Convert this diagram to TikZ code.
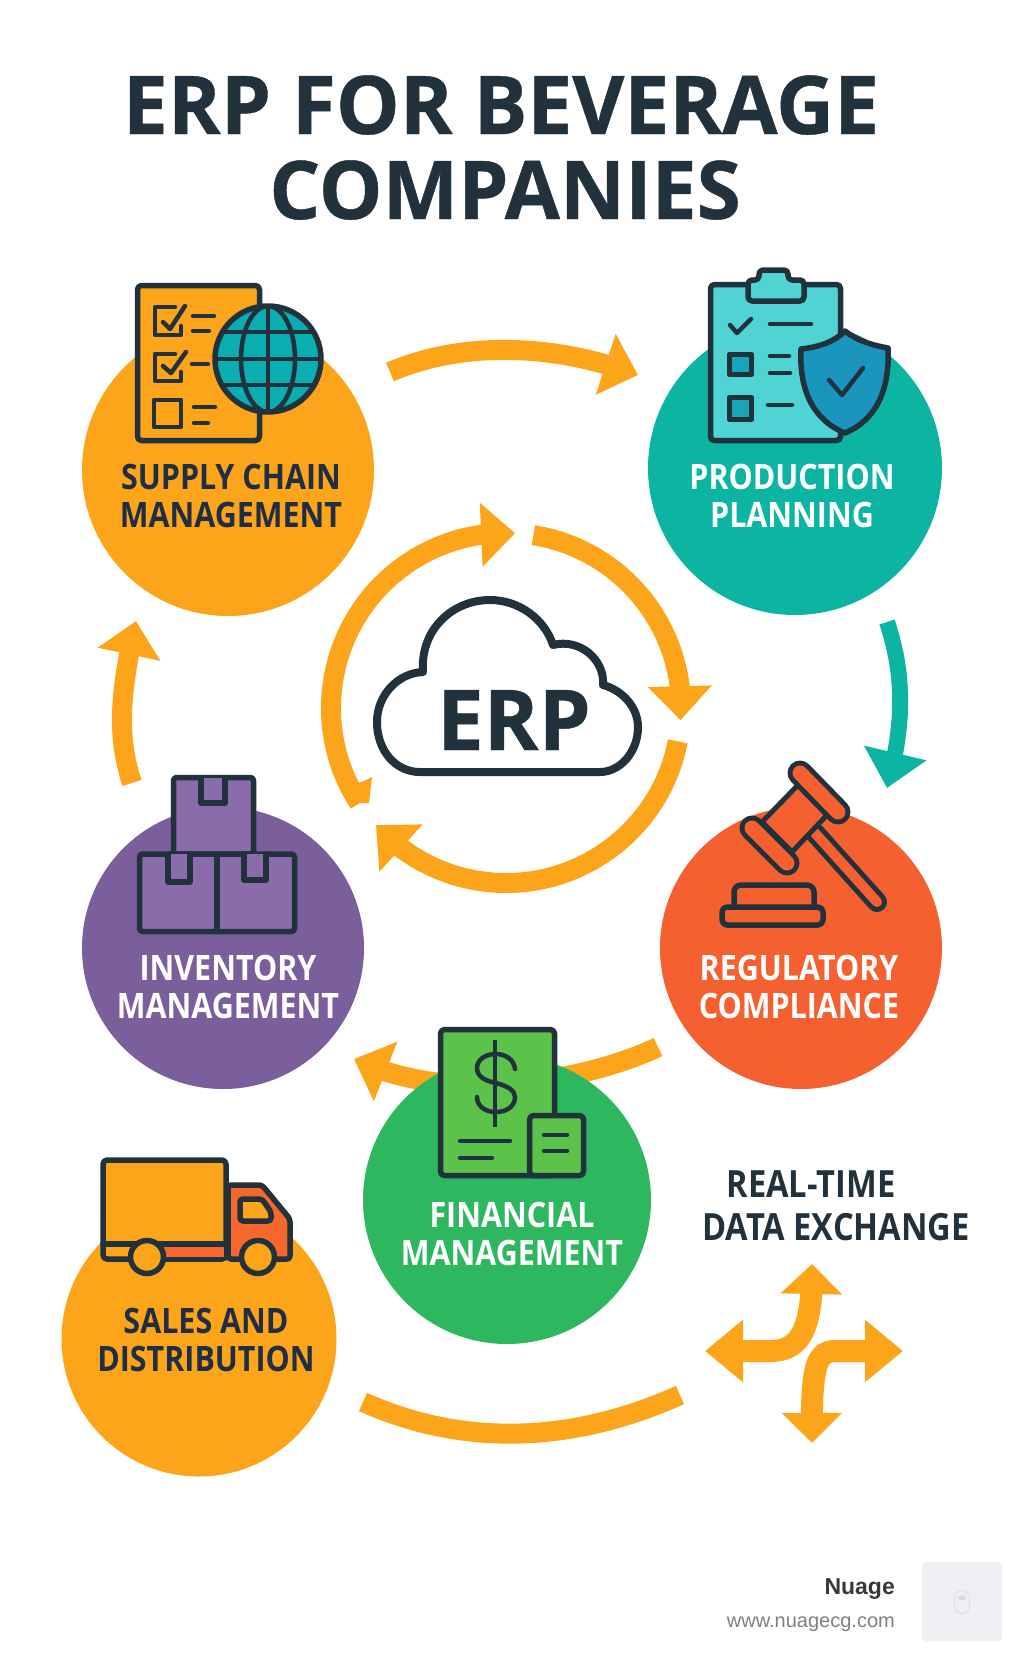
\documentclass[tikz,border=0pt]{standalone}
\usepackage{fontspec}
\usetikzlibrary{arrows.meta,bending}
\newfontfamily\titlefont[FakeStretch=0.99, BoldFeatures={FakeBold=0.5}]{Open Sans}
\newfontfamily\hubfont[FakeStretch=0.87]{Open Sans}
\newfontfamily\footfont{Liberation Sans}
\definecolor{ink}{HTML}{22323C}
\definecolor{navy}{HTML}{1F2D45}
\definecolor{amber}{HTML}{FDA51A}
\definecolor{teal}{HTML}{0CB5A2}
\definecolor{mint}{HTML}{4FD3D3}
\definecolor{sea}{HTML}{17A5B7}
\definecolor{shieldblue}{HTML}{1A96BE}
\definecolor{globeteal}{HTML}{0BAEB0}
\definecolor{flame}{HTML}{F4602F}
\definecolor{plum}{HTML}{7A5F9C}
\definecolor{lilac}{HTML}{8A6CAB}
\definecolor{leaf}{HTML}{2DB75F}
\definecolor{lime}{HTML}{5BC24A}
\definecolor{tile}{HTML}{EFEFF4}
\tikzset{
    hub/.style={circle, inner sep=0pt, minimum size=#1},
    hubtext/.style={font=\hubfont\bfseries\fontsize{35}{37.5}\selectfont, align=center, anchor=base, inner sep=0pt},
    icon/.style={draw=ink, line width=5.5pt, line join=round, line cap=round},
    thin icon/.style={draw=ink, line width=4.5pt, line join=round, line cap=round},
    bar/.style={draw=ink, line width=4.5pt, line cap=round},
    flow/.style={draw=amber, line width=#1, -{Triangle[length=34pt,width=62pt]}},
    flow/.default=20pt,
    gavel/.style={draw=ink, line width=5pt, double=flame, line cap=round, double distance=#1}
}
\begin{document}
\begin{tikzpicture}[x=1pt, y=-1pt]

    \useasboundingbox (0,0) rectangle (1024,1666);
    \path[fill=white] (0,0) rectangle (1024,1666);

    % title
    \node[font=\titlefont\bfseries\fontsize{81}{81}\selectfont, text=ink, anchor=base, inner sep=0pt] (title1) at (501,134) {ERP FOR BEVERAGE};
    \node[font=\titlefont\bfseries\fontsize{81}{81}\selectfont, text=ink, anchor=base, inner sep=0pt] (title2) at (505,219) {COMPANIES};

    % free ends of the connectors
    \coordinate (supplyout) at (390,372);
    \coordinate (prodin) at (638,375);
    \coordinate (prodout) at (887,622);
    \coordinate (reguin) at (887,788);
    \coordinate (reguout) at (658,1047);
    \coordinate (invin) at (354,1059);
    \coordinate (invout) at (132,783);
    \coordinate (supplyin) at (136,621);
    \coordinate (salesout) at (363,1402);
    \coordinate (dataleft) at (680,1395);
    \coordinate (ring) at (506,708);

    % connectors, below the circles
    \path[flow] (supplyout) .. controls (460,342) and (550,342) .. (prodin);
    \path[draw=teal, line width=16pt, -{Triangle[length=36pt,width=62pt]}] (prodout) .. controls (903,670) and (906,720) .. (reguin);
    \path[flow] (reguout) .. controls (600,1075) and (460,1110) .. (invin);
    \path[flow] (invout) .. controls (118,740) and (118,700) .. (supplyin);
    \path[draw=amber, line width=20pt] (salesout) .. controls (470,1450) and (580,1440) .. (dataleft);

    % ring round the cloud
    \path[flow=20pt] ([shift={(147:175)}]ring) arc (147:273:175);
    \path[flow=20pt] ([shift={(279:175)}]ring) arc (279:364:175);
    \path[flow=20pt] ([shift={(11:175)}]ring) arc (11:138:175);
    \path[fill=amber] (362,782) -- (372,777) -- (369,803) -- (350,803) -- (345,798) -- (340,785) -- cycle;

    % cloud
    \path[draw=ink, fill=white, line width=8pt, line join=round] (420,772) .. controls (395,772) and (377,750) .. (377,722) .. controls (377,695) and (398,673) .. (423,672) .. controls (420,630) and (452,600) .. (490,600) .. controls (520,600) and (545,620) .. (553,645) .. controls (580,638) and (605,660) .. (603,685) .. controls (622,690) and (638,707) .. (638,727) .. controls (638,752) and (620,772) .. (600,772) -- cycle;
    \node[font=\titlefont\bfseries\fontsize{84}{84}\selectfont, text=ink, anchor=base, inner sep=0pt] (erp) at (514,750) {ERP};

    % circles
    \node[hub=292pt, fill=amber] (supply) at (228,470) {};
    \node[hub=294pt, fill=teal] (prod) at (795,468) {};
    \node[hub=282pt, fill=flame] (regu) at (801,948) {};
    \node[hub=282pt, fill=plum] (inv) at (223,948) {};
    \node[hub=288pt, fill=leaf] (fin) at (507,1200) {};
    \node[hub=275pt, fill=amber] (sales) at (199,1339) {};

    % supply chain icon
    \path[icon, fill=amber, rounded corners=4pt] (137.5,285.5) rectangle (259.5,440.5);
    \path[thin icon] (175,307) -- (155,307) -- (155,335) -- (181,335) -- (181,326);
    \path[thin icon] (163,322) -- (170,329) -- (185,306);
    \path[thin icon] (175,354) -- (155,354) -- (155,381) -- (181,381) -- (181,372);
    \path[thin icon] (163,366) -- (171,373) -- (186,352);
    \path[thin icon] (154,400) rectangle (181,427);
    \path[bar] (193,316) -- (214,316);
    \path[bar] (193,331) -- (209,331);
    \path[bar] (192,364) -- (208,364);
    \path[bar] (194,407) -- (215,407);
    \path[bar] (194,423) -- (208,423);
    \path[fill=globeteal] (268,359) circle (53);
    \begin{scope}
        \clip (268,359) circle (53);
        \foreach \py in {332,359,385} {
            \path[draw=ink, line width=4.5pt] (210,\py) -- (326,\py);
        }
        \path[draw=ink, line width=4.5pt] (268,300) -- (268,418);
        \path[draw=ink, line width=4.5pt] (268,359) ellipse (27 and 53);
    \end{scope}
    \path[icon] (268,359) circle (53);

    % production icon
    \path[icon, fill=mint, rounded corners=4pt] (710.5,284.5) rectangle (840.5,440.5);
    \path[icon, fill=mint, rounded corners=4pt] (748,301) -- (748,280) -- (759,280) -- (759,270) -- (788,270) -- (788,280) -- (804,280) -- (804,301) -- cycle;
    \path[thin icon] (730,325) -- (737,333) -- (751,319);
    \path[bar] (770,324) -- (811,324);
    \path[icon, fill=sea] (729.5,354.5) rectangle (751.5,374.5);
    \path[bar] (770,356) -- (789,356);
    \path[bar] (770,373) -- (790,373);
    \path[icon, fill=sea] (729.5,397.5) rectangle (751.5,419.5);
    \path[bar] (768,405) -- (792,405);
    \path[icon, fill=shieldblue] (845,331) .. controls (856,340) and (871,345) .. (888,348) .. controls (890,390) and (876,420) .. (845,433) .. controls (813,420) and (799,390) .. (801,349) .. controls (819,347) and (834,342) .. (845,331) -- cycle;
    \path[thin icon] (829,380) -- (842,395) -- (863,368);

    % gavel
    \path[gavel=10pt] (815,833) -- (877,902);
    \path[draw=ink, fill=flame, line width=5pt, line join=round] (798,785) -- (827,815) -- (792,852) -- (762,822) -- cycle;
    \path[gavel=15pt] (800,773) -- (838,812);
    \path[gavel=15pt] (752,828) -- (787,863);
    \path[icon, fill=flame, rounded corners=7pt] (734,905) -- (734,885) -- (814,885) -- (814,905);
    \path[icon, fill=flame, rounded corners=5pt] (722,907) rectangle (823,925);

    % boxes
    \path[icon, fill=lilac, rounded corners=3pt] (173.5,777.5) rectangle (253.5,854);
    \path[icon, fill=lilac] (201,777.5) -- (201,803) -- (225,803) -- (225,777.5);
    \path[icon, fill=lilac, rounded corners=3pt] (139.5,854) rectangle (294.5,931.5);
    \path[icon] (217,854) -- (217,931.5);
    \path[icon, fill=lilac] (168,854) -- (168,882) -- (190,882) -- (190,854);
    \path[icon, fill=lilac] (244,854) -- (244,880) -- (266,880) -- (266,854);

    % bill
    \path[icon, fill=lime, rounded corners=4pt] (440.5,1029.5) rectangle (554.5,1175.5);
    \path[draw=ink, line width=4.5pt] (495,1040) -- (495,1127);
    \path[draw=ink, line width=4.5pt, line cap=round] (515,1069) .. controls (514,1060) and (506,1054) .. (496,1054) .. controls (485,1054) and (477,1060) .. (477,1068) .. controls (477,1077) and (486,1081) .. (496,1083) .. controls (507,1086) and (515,1090) .. (515,1097) .. controls (515,1106) and (507,1112) .. (496,1112) .. controls (485,1112) and (477,1106) .. (477,1097);
    \path[bar] (460,1141) -- (510,1141);
    \path[bar] (460,1158) -- (492,1158);
    \path[icon, fill=lime, rounded corners=4pt] (529.5,1115.5) rectangle (583.5,1175.5);
    \path[bar] (544,1135) -- (567,1135);
    \path[bar] (544,1151) -- (567,1151);

    % truck
    \path[icon, fill=flame!90!amber, rounded corners=3pt] (228,1185) -- (262,1185) -- (290,1219) -- (290,1259) -- (228,1259) -- cycle;
    \path[icon, fill=amber, rounded corners=4pt] (103,1160) rectangle (226,1259);
    \path[fill=flame!90!amber] (163,1246) rectangle (224,1257);
    \path[icon] (103,1244) -- (226,1244);
    \path[icon, fill=amber, rounded corners=3pt] (240,1199) -- (262,1199) -- (271,1212) -- (271,1221) -- (240,1221) -- cycle;
    \foreach \wx in {147,258} {
        \path[icon, fill=amber] (\wx,1257) circle (16.5);
    }

    % circle labels
    \node[hubtext, text=navy] (supplytext) at (231,527) {SUPPLY CHAIN\\MANAGEMENT};
    \node[hubtext, text=white] (prodtext) at (792,527) {PRODUCTION\\PLANNING};
    \node[hubtext, text=white] (regutext) at (799,1018) {REGULATORY\\COMPLIANCE};
    \node[hubtext, text=white] (invtext) at (228,1018) {INVENTORY\\MANAGEMENT};
    \node[hubtext, text=white] (fintext) at (512,1265) {FINANCIAL\\MANAGEMENT};
    \node[hubtext, text=navy] (salestext) at (206,1371) {SALES AND\\DISTRIBUTION};

    % data exchange
    \node[font=\hubfont\bfseries\fontsize{37.5}{38}\selectfont, text=ink, anchor=base, inner sep=0pt] (rt1) at (811,1197) {REAL-TIME};
    \node[font=\hubfont\bfseries\fontsize{37.5}{38}\selectfont, text=ink, anchor=base, inner sep=0pt] (rt2) at (836,1240) {DATA EXCHANGE};
    \coordinate (uptip) at (812,1264);
    \coordinate (lefttip) at (705,1351);
    \coordinate (righttip) at (903,1351);
    \coordinate (downtip) at (812,1443);
    \path[draw=amber, line width=22pt, {Triangle[length=38pt,width=60pt]}-{Triangle[length=30pt,width=60pt]}] (lefttip) -- (770,1351) .. controls (800,1351) and (813,1330) .. (uptip);
    \path[draw=amber, line width=22pt, {Triangle[length=38pt,width=60pt]}-{Triangle[length=30pt,width=58pt]}] (righttip) -- (835,1351) .. controls (815,1351) and (811,1370) .. (downtip);

    % footer
    \node[font=\footfont\bfseries\fontsize{23}{24}\selectfont, text=black!78, anchor=base east, inner sep=0pt] (brand) at (895,1594) {Nuage};
    \node[font=\footfont\fontsize{20}{20}\selectfont, text=black!50, anchor=base east, inner sep=0pt] (site) at (895,1627) {www.nuagecg.com};
    \path[fill=tile, rounded corners=4pt] (922,1562) rectangle (1002,1641);
    \path[draw=black!12, line width=1pt] (962,1602) ellipse (8 and 12);
    \path[fill=black!15] (962,1598) ellipse (4 and 2.5);

\end{tikzpicture}
\end{document}
